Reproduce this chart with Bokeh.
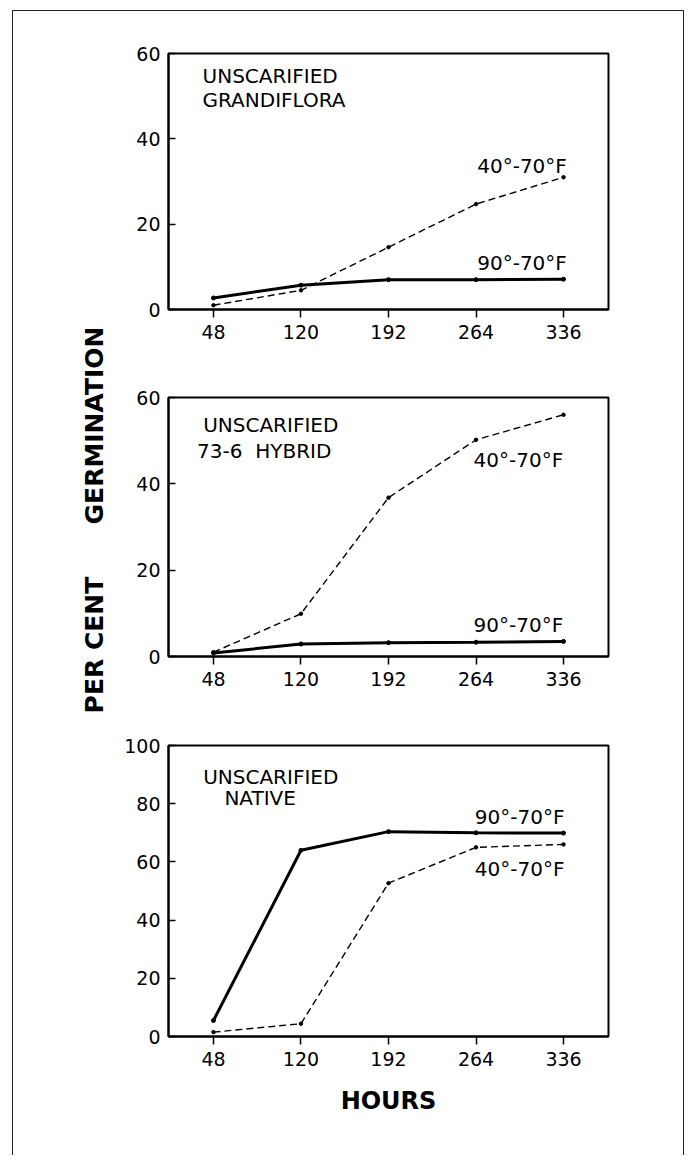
from bokeh.plotting import figure
from bokeh.layouts import column, row
from bokeh.models import Label, FixedTicker, Range1d
from bokeh.embed import file_html
from bokeh.resources import INLINE

# ---- data ----
hours = [48, 120, 192, 264, 336]

grand_90_70 = [2.7, 5.7, 7.0, 7.0, 7.1]
grand_40_70 = [1.0, 4.5, 14.6, 24.7, 31.0]

hybrid_90_70 = [0.8, 2.9, 3.2, 3.3, 3.5]
hybrid_40_70 = [1.0, 9.9, 36.8, 50.2, 56.0]

native_90_70 = [5.5, 64.0, 70.4, 70.0, 69.9]
native_40_70 = [1.5, 4.4, 52.7, 65.0, 66.0]

y_ticks_60 = [0, 20, 40, 60]
y_ticks_100 = [0, 20, 40, 60, 80, 100]

series_names = ["90°-70°F", "40°-70°F"]
panel_titles = [
    ["UNSCARIFIED", "GRANDIFLORA"],
    ["UNSCARIFIED", "73-6\u00a0\u00a0HYBRID"],
    ["UNSCARIFIED", "NATIVE"],
]
y_title = "PER\u00a0CENT" + "\u00a0" * 6 + "GERMINATION"
x_title = "HOURS"

TICK_FONT = "DejaVu Sans"
TITLE_FONT = "DejaVu Sans"


def make_panel(height, mbt, mbb, ymax, yticks, xlabel=None):
    p = figure(width=570, height=height,
               x_range=Range1d(11, 373), y_range=Range1d(0, ymax),
               min_border_left=55, min_border_right=75,
               min_border_top=mbt, min_border_bottom=mbb,
               output_backend="svg", toolbar_location=None,
               background_fill_color="white", border_fill_color="white",
               outline_line_color="black", outline_line_width=2)
    p.grid.visible = False
    xa = p.xaxis[0]
    xa.ticker = FixedTicker(ticks=hours)
    xa.major_tick_in = 0
    xa.major_tick_out = 8
    xa.minor_tick_line_color = None
    xa.axis_line_width = 2
    xa.major_tick_line_width = 1.5
    xa.major_label_text_font = TICK_FONT
    xa.major_label_text_font_size = "19px"
    xa.major_label_text_color = "black"
    xa.major_label_standoff = 7
    if xlabel:
        xa.axis_label = xlabel
        xa.axis_label_text_font = TITLE_FONT
        xa.axis_label_text_font_style = "bold"
        xa.axis_label_text_font_size = "24px"
        xa.axis_label_text_color = "black"
        xa.axis_label_standoff = 18
    ya = p.yaxis[0]
    ya.ticker = FixedTicker(ticks=yticks)
    ya.major_tick_in = 7
    ya.major_tick_out = 0
    ya.minor_tick_line_color = None
    ya.axis_line_width = 2
    ya.major_tick_line_width = 1.5
    ya.major_label_text_font = TICK_FONT
    ya.major_label_text_font_size = "19px"
    ya.major_label_text_color = "black"
    ya.major_label_standoff = 8
    return p


def add_series(p, y90, y40):
    p.line(hours, y40, line_width=1.4, line_color="black", line_dash="7 4")
    p.line(hours, y90, line_width=3, line_color="black")
    p.scatter(hours, y40, size=3.5, color="black")
    p.scatter(hours, y90, size=4, color="black")


def txt(p, x, y, s, size="20px"):
    p.add_layout(Label(x=x, y=y, text=s, text_font=TICK_FONT, text_font_size=size,
                       text_baseline="middle", text_align="left", text_color="black"))


# ---- top panel ----
f1 = make_panel(344, 42, 46, 60, y_ticks_60)
add_series(f1, grand_90_70, grand_40_70)
txt(f1, 39, 54.8, panel_titles[0][0])
txt(f1, 39, 49.0, panel_titles[0][1])
txt(f1, 265, 33.7, series_names[1])
txt(f1, 265, 11.0, series_names[0])

# ---- middle panel ----
f2 = make_panel(345, 42, 44, 60, y_ticks_60)
add_series(f2, hybrid_90_70, hybrid_40_70)
txt(f2, 39.5, 53.7, panel_titles[1][0])
txt(f2, 34.5, 47.5, panel_titles[1][1])
txt(f2, 262, 45.6, series_names[1])
txt(f2, 262, 7.2, series_names[0])

# ---- bottom panel ----
f3 = make_panel(455, 45, 119, 100, y_ticks_100, xlabel=x_title)
add_series(f3, native_90_70, native_40_70)
txt(f3, 39.5, 89.3, panel_titles[2][0])
txt(f3, 57, 81.8, panel_titles[2][1])
txt(f3, 263, 75.3, series_names[0])
txt(f3, 263, 57.7, series_names[1])

# ---- shared y title ----
lab = figure(width=100, height=1144, x_range=Range1d(0, 100), y_range=Range1d(0, 1144),
             min_border=0, x_axis_location=None, y_axis_location=None,
             output_backend="svg", toolbar_location=None,
             outline_line_color=None, background_fill_color="white", border_fill_color="white")
lab.grid.visible = False
lab.add_layout(Label(x=80.5, y=635.5, text=y_title, angle=90, angle_units="deg",
                     text_font=TITLE_FONT, text_font_style="bold", text_font_size="25px",
                     text_align="center", text_baseline="middle", text_color="black"))

layout = row(lab, column(f1, f2, f3),
             styles={"border-left": "1.5px solid #222", "border-top": "1.5px solid #222",
                     "border-right": "1.5px solid #222", "margin-left": "12px",
                     "margin-top": "10px"})

open("out.html", "w").write(file_html(layout, INLINE))
